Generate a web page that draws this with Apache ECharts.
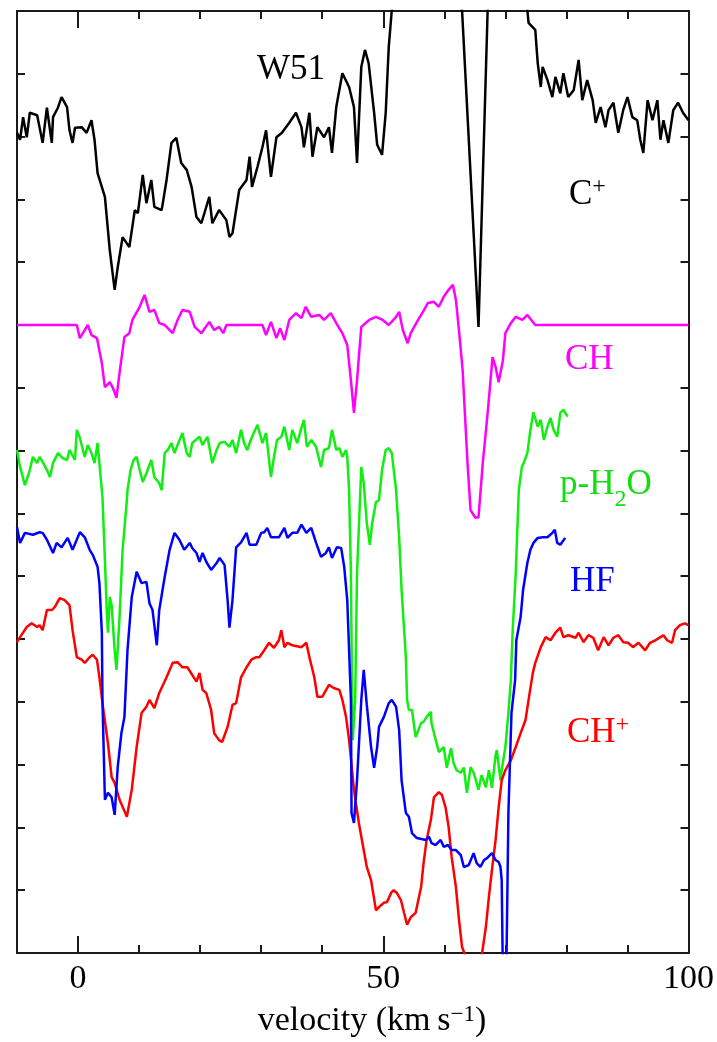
<!DOCTYPE html>
<html>
<head>
<meta charset="utf-8">
<script src="https://cdn.jsdelivr.net/npm/echarts@6/dist/echarts.min.js"></script>
<style>
html, body { margin: 0; padding: 0; background: #fff; }
#main { width: 717px; height: 1042px; }
</style>
</head>
<body>
<div id="main"></div>
<script>
// spectra: [velocity km/s, offset intensity (1 unit = 1 y tick)]
var cPlus = [[-10.0,13.06],[-9.5,12.95],[-9.0,13.31],[-8.4,12.99],[-7.9,13.38],[-6.7,13.34],[-5.8,12.90],[-5.1,13.46],[-4.3,12.90],[-4.1,13.31],[-3.3,13.46],[-2.7,13.63],[-1.8,13.47],[-1.4,13.10],[-0.9,12.90],[-0.5,13.14],[0.6,13.15],[1.4,13.06],[2.2,13.26],[2.7,12.95],[3.2,12.42],[4.4,12.04],[5.2,11.19],[6.0,10.56],[6.5,10.92],[7.3,11.40],[8.4,11.24],[9.3,11.83],[9.8,11.78],[10.6,12.39],[11.2,11.94],[12.0,12.31],[12.5,11.88],[13.7,11.83],[14.5,12.31],[15.3,12.90],[16.1,12.98],[16.9,12.58],[17.8,12.47],[18.6,12.20],[19.4,11.72],[20.2,11.62],[21.5,12.04],[22.0,11.62],[23.1,11.83],[24.3,11.67],[24.8,11.40],[25.3,11.46],[26.4,12.15],[27.6,12.31],[28.1,12.68],[28.5,12.20],[29.4,12.52],[30.2,12.83],[30.8,13.10],[31.6,12.36],[32.5,12.99],[33.4,13.06],[34.6,13.22],[35.7,13.38],[36.6,13.15],[37.0,12.83],[37.9,13.38],[38.4,12.68],[39.2,13.15],[40.3,12.99],[41.1,13.15],[41.6,12.74],[42.3,13.47],[43.3,14.01],[44.4,13.79],[45.2,13.47],[45.7,12.58],[46.4,14.11],[47.0,14.38],[47.6,14.17],[48.5,13.38],[49.0,12.87],[49.8,12.71],[50.4,13.38],[50.9,14.43],[51.4,15.02],[52.6,16.1],[55.8,16.7],[61.5,16.1],[62.9,15.02],[65.6,9.97],[67.1,15.02],[68.9,16.1],[73.0,15.65],[73.8,14.81],[74.9,14.70],[75.3,14.17],[75.8,13.79],[76.1,14.11],[76.9,13.90],[77.7,13.63],[78.2,13.95],[79.0,13.69],[79.5,14.01],[80.3,13.63],[81.2,13.74],[82.0,14.22],[82.6,13.58],[83.4,13.90],[84.3,13.58],[84.8,13.22],[85.6,13.47],[86.4,13.15],[86.9,13.42],[87.7,13.54],[88.5,13.06],[89.3,13.42],[90.0,13.63],[90.8,13.31],[91.6,13.26],[92.1,12.95],[92.6,12.74],[93.3,13.58],[94.1,13.26],[94.9,13.58],[95.4,12.95],[95.9,13.26],[96.7,12.90],[97.5,13.42],[98.3,13.54],[99.1,13.38],[100,13.26]];

var chLine = [[-10,10.0],[-0.2,10.0],[0.3,9.79],[1.1,9.92],[1.6,10.0],[2.2,9.84],[3.1,9.79],[3.9,9.39],[4.4,9.01],[5.2,9.09],[5.7,9.0],[6.3,8.84],[6.8,9.24],[7.6,9.81],[8.4,9.87],[8.9,10.08],[10.1,10.29],[10.9,10.48],[11.7,10.21],[12.5,10.24],[13.3,10.03],[14.2,10.0],[14.7,9.95],[15.5,9.87],[16.3,10.08],[17.1,10.24],[18.3,10.21],[19.1,9.97],[20.2,9.87],[21.5,10.05],[22.3,9.92],[23.1,9.97],[23.8,9.87],[24.3,10.0],[30.2,10.0],[30.8,9.84],[31.6,10.05],[32.5,9.79],[33.1,9.95],[33.8,9.76],[34.6,10.08],[35.7,10.19],[36.6,10.11],[37.3,10.29],[38.2,10.13],[39.5,10.16],[40.3,10.08],[41.4,10.19],[42.3,10.03],[43.3,9.87],[44.1,9.68],[44.7,9.12],[45.2,8.60],[45.7,9.12],[46.4,9.97],[47.7,10.08],[48.8,10.13],[49.9,10.08],[50.9,10.0],[52.1,10.13],[52.6,10.21],[53.2,9.92],[54.0,9.71],[54.5,9.87],[55.7,10.08],[56.5,10.21],[57.3,10.35],[58.3,10.37],[59.1,10.29],[59.9,10.45],[60.7,10.56],[61.4,10.64],[61.9,10.40],[62.4,9.92],[63.0,9.28],[63.8,7.80],[64.3,7.05],[65.1,6.93],[65.6,6.94],[66.3,7.80],[67.1,8.60],[67.9,9.49],[68.4,9.33],[68.9,9.09],[69.6,9.44],[70.0,9.87],[70.9,10.03],[71.7,10.13],[72.8,10.08],[73.6,10.16],[74.9,10.0],[100,10.0]];

var pH2O = [[-10.0,8.01],[-9.5,7.74],[-8.7,7.45],[-7.9,7.69],[-7.4,7.90],[-6.7,7.80],[-6.3,7.90],[-5.8,7.82],[-5.1,7.69],[-4.6,7.58],[-4.1,7.80],[-3.3,7.96],[-2.5,7.88],[-1.8,7.85],[-1.4,8.01],[-0.5,7.85],[-0.2,8.33],[0.3,8.20],[1.1,7.90],[1.6,8.09],[2.2,7.96],[2.7,7.80],[3.2,8.12],[3.5,7.80],[4.0,7.26],[4.4,6.26],[4.7,5.46],[4.9,5.10],[5.2,5.67],[5.5,5.54],[6.0,4.82],[6.3,4.51],[6.8,5.35],[7.3,6.42],[8.0,7.21],[8.1,7.37],[8.6,7.69],[9.1,7.85],[9.6,7.90],[10.1,7.69],[10.6,7.50],[11.2,7.64],[12.0,7.85],[12.5,7.58],[13.3,7.48],[13.7,7.37],[14.2,7.96],[14.7,8.01],[15.3,8.12],[15.8,7.96],[16.3,8.09],[17.1,8.28],[17.8,7.96],[18.3,7.90],[18.7,8.12],[19.9,8.22],[20.4,8.09],[21.2,8.22],[22.0,7.80],[22.7,8.01],[23.2,8.12],[24.0,8.14],[24.8,8.06],[25.3,8.17],[25.9,7.96],[26.7,8.33],[27.2,8.12],[27.7,8.01],[28.5,8.22],[29.4,8.41],[30.2,8.12],[30.8,8.28],[31.6,7.58],[32.1,7.90],[32.6,8.17],[33.3,8.22],[33.8,8.38],[34.6,8.01],[35.1,8.33],[35.9,8.12],[36.5,8.33],[37.0,8.49],[37.5,8.06],[38.2,8.17],[39.0,8.06],[39.8,7.74],[40.3,8.01],[41.1,8.04],[41.6,8.33],[42.3,8.01],[42.8,8.04],[43.3,7.90],[43.9,8.01],[44.1,7.90],[44.4,7.37],[44.7,6.05],[44.9,4.03],[45.0,3.39],[45.4,4.03],[45.7,6.05],[46.4,7.74],[46.8,7.48],[47.3,6.85],[47.8,6.50],[48.2,6.85],[48.8,7.18],[49.3,7.21],[49.8,7.69],[50.4,8.01],[50.9,8.04],[51.4,7.96],[52.1,7.37],[52.6,6.62],[53.0,5.78],[53.7,4.71],[53.9,4.03],[54.2,3.87],[54.7,3.87],[55.3,3.44],[56.2,3.66],[56.6,3.68],[57.1,3.76],[57.8,3.84],[57.9,3.66],[58.6,3.39],[59.1,3.20],[59.9,3.28],[60.4,2.95],[61.1,3.26],[61.5,3.03],[62.0,2.91],[62.7,2.87],[63.2,2.95],[63.7,2.55],[64.3,2.96],[64.8,2.87],[65.3,2.71],[65.6,2.60],[66.1,2.83],[66.8,2.64],[67.3,2.91],[67.8,2.63],[68.4,3.15],[68.6,3.23],[69.2,2.75],[69.4,2.91],[70.0,3.28],[70.5,3.82],[70.9,4.35],[71.2,5.14],[71.7,6.05],[72.2,7.37],[72.7,7.74],[73.0,7.80],[73.3,7.77],[73.6,7.96],[74.1,8.33],[74.6,8.61],[75.3,8.38],[75.8,8.49],[76.3,8.17],[76.9,8.38],[77.4,8.52],[77.9,8.33],[78.5,8.22],[79.0,8.60],[79.5,8.65],[80.2,8.54]];

var hfLine = [[-10.0,6.78],[-9.5,6.53],[-8.7,6.69],[-7.4,6.66],[-6.3,6.70],[-5.8,6.69],[-5.1,6.58],[-4.1,6.37],[-3.5,6.53],[-2.7,6.46],[-1.7,6.61],[-0.9,6.42],[0.3,6.70],[1.1,6.62],[1.9,6.42],[2.4,6.34],[3.2,6.15],[3.5,5.89],[3.9,5.10],[4.0,4.03],[4.4,2.44],[4.9,2.55],[5.5,2.48],[6.0,2.20],[6.5,2.96],[7.1,3.50],[7.6,3.76],[8.1,4.82],[8.8,5.67],[9.6,6.07],[10.4,5.89],[11.2,5.91],[11.7,5.57],[12.2,5.46],[12.9,4.90],[13.3,5.46],[14.2,5.99],[15.0,6.42],[15.8,6.69],[16.6,6.58],[17.4,6.42],[18.3,6.53],[18.7,6.45],[19.4,6.37],[19.9,6.23],[20.4,6.37],[21.0,6.23],[21.8,6.10],[22.7,6.21],[23.2,6.29],[24.0,6.18],[24.5,5.62],[24.8,5.18],[25.3,5.62],[25.9,6.46],[26.7,6.54],[27.6,6.69],[28.1,6.50],[29.2,6.50],[30.0,6.69],[30.5,6.70],[31.0,6.77],[31.6,6.62],[32.9,6.62],[33.8,6.77],[34.3,6.61],[35.1,6.69],[35.9,6.69],[36.6,6.82],[37.4,6.69],[38.2,6.77],[39.0,6.53],[39.8,6.31],[40.6,6.37],[41.1,6.46],[41.6,6.29],[42.4,6.46],[43.1,6.45],[43.6,6.15],[44.1,5.62],[44.7,4.03],[44.8,2.23],[45.2,2.07],[45.7,2.75],[46.4,4.03],[46.8,4.51],[47.3,3.95],[48.0,3.28],[48.5,2.95],[49.0,3.28],[49.3,3.60],[50.1,3.76],[50.9,3.98],[51.4,4.03],[52.1,3.92],[52.6,3.55],[53.0,2.75],[53.7,2.23],[54.2,2.17],[54.7,1.91],[55.5,1.83],[57.0,1.80],[57.5,1.85],[57.9,1.75],[58.6,1.72],[59.4,1.80],[59.9,1.69],[60.6,1.72],[61.2,1.64],[61.9,1.64],[62.7,1.56],[63.2,1.37],[64.0,1.40],[64.8,1.59],[65.3,1.43],[65.9,1.37],[66.5,1.48],[67.0,1.51],[67.8,1.59],[68.4,1.48],[68.9,1.45],[69.2,1.37],[69.4,1.16],[69.6,-0.4],[70.0,-0.4],[70.2,0],[70.5,2.23],[71.0,3.82],[71.6,4.35],[71.8,4.98],[72.5,5.35],[72.9,5.78],[73.6,6.21],[74.1,6.42],[74.6,6.53],[75.3,6.61],[76.1,6.62],[76.9,6.62],[77.7,6.69],[78.1,6.74],[78.5,6.53],[79.0,6.50],[79.8,6.61]];

var chPlus = [[-10.0,4.95],[-9.5,5.03],[-8.4,5.19],[-7.6,5.25],[-6.7,5.19],[-6.3,5.22],[-5.8,5.14],[-5.1,5.46],[-4.3,5.46],[-3.8,5.51],[-3.0,5.65],[-2.2,5.62],[-1.4,5.54],[-0.9,5.14],[-0.2,4.71],[0.6,4.67],[1.1,4.62],[1.9,4.71],[2.4,4.75],[3.1,4.67],[3.5,4.39],[4.0,3.98],[4.9,3.34],[5.5,2.80],[6.0,2.71],[6.8,2.44],[8.0,2.17],[8.8,2.60],[9.6,3.28],[10.4,3.82],[11.2,3.92],[11.7,4.03],[12.5,3.90],[13.3,4.14],[14.5,4.39],[15.5,4.62],[16.3,4.63],[17.1,4.55],[17.9,4.55],[18.7,4.43],[19.4,4.32],[19.9,4.46],[20.4,4.19],[21.0,4.14],[21.8,3.87],[22.3,3.50],[23.1,3.39],[23.6,3.36],[24.5,3.60],[25.3,3.95],[25.9,3.98],[26.7,4.39],[27.6,4.55],[28.4,4.67],[29.2,4.71],[29.7,4.71],[30.5,4.82],[31.3,4.94],[32.1,4.86],[32.9,4.98],[33.3,5.14],[33.8,4.87],[34.3,4.94],[35.1,4.90],[36.6,4.87],[37.4,4.94],[37.9,4.71],[38.7,4.39],[39.2,4.08],[40.0,4.08],[41.1,4.27],[41.9,4.22],[42.8,4.19],[43.3,4.03],[43.9,3.76],[44.4,3.39],[45.2,2.60],[46.0,2.07],[46.5,1.80],[47.3,1.37],[48.0,1.16],[48.8,0.68],[49.3,0.73],[50.1,0.80],[50.6,0.81],[51.3,0.96],[51.7,1.00],[52.2,0.96],[52.9,0.84],[53.4,0.64],[53.9,0.45],[54.5,0.57],[55.3,0.64],[56.2,1.05],[56.6,1.43],[57.1,1.80],[57.8,2.12],[58.3,2.48],[59.1,2.56],[59.6,2.52],[60.2,2.32],[60.7,2.01],[61.2,1.53],[61.9,1.05],[62.4,0.53],[62.9,0.10],[63.5,-0.06],[66.1,-0.06],[66.8,0.41],[67.3,0.89],[67.8,1.32],[68.4,1.80],[68.9,2.32],[69.4,2.75],[70.0,2.91],[70.9,3.07],[71.7,3.28],[72.5,3.50],[73.3,3.71],[73.8,4.03],[74.5,4.46],[74.9,4.62],[75.8,4.87],[76.6,5.03],[77.4,4.98],[78.2,5.10],[79.0,5.18],[79.5,5.03],[80.3,5.06],[81.5,5.02],[82.0,5.10],[82.8,4.95],[83.6,5.06],[84.4,5.02],[85.2,4.82],[86.1,5.03],[86.9,4.90],[87.7,5.02],[88.5,5.06],[89.3,4.95],[90.1,4.94],[90.9,4.87],[91.8,4.94],[92.9,4.82],[93.7,4.94],[94.6,4.98],[95.4,5.03],[95.9,5.06],[96.5,4.98],[97.3,4.94],[97.8,5.14],[98.6,5.22],[99.4,5.25],[100,5.22]];

// axis ticks
var minorTicks = [-10, 0, 10, 20, 30, 40, 50, 60, 70, 80, 90, 100];
var majorTicks = [0, 50, 100];

var serif = '"Liberation Serif", "DejaVu Serif", serif';
var frame = '#1a1a1a';

var chart = echarts.init(document.getElementById('main'));

function xAx(pos, ticks, len, labels) {
    return {
        type: 'value', min: -10, max: 100, interval: 10, position: pos,
        axisLine: { show: true, onZero: false, lineStyle: { color: frame, width: 2 } },
        axisTick: { show: true, inside: true, length: len, customValues: ticks,
                    lineStyle: { color: frame, width: 2 } },
        axisLabel: labels ? { show: true, customValues: labels, margin: 9,
                    fontFamily: serif, fontSize: 34, color: '#000' } : { show: false },
        splitLine: { show: false }
    };
}
function yAx(pos) {
    return {
        type: 'value', min: 0, max: 15, interval: 1, position: pos,
        axisLine: { show: true, onZero: false, lineStyle: { color: frame, width: 2 } },
        axisTick: { show: true, inside: true, length: 8, lineStyle: { color: frame, width: 2 } },
        axisLabel: { show: false },
        splitLine: { show: false }
    };
}
function spec(name, data, color) {
    return {
        name: name, type: 'line', data: data, showSymbol: false, symbol: 'none',
        lineStyle: { color: color, width: 2.5 }, itemStyle: { color: color },
        clip: true, animation: false
    };
}
function label(x, y, text, rich) {
    return { type: 'text', x: x, y: y, z: 100,
             style: { text: text, rich: rich, align: 'left', verticalAlign: 'middle' } };
}
function richSet(color) {
    return {
        n: { fontFamily: serif, fontSize: 35, fill: color, color: color },
        sup: { fontFamily: serif, fontSize: 24, fill: color, color: color, padding: [0, 0, 16, 0] },
        sub: { fontFamily: serif, fontSize: 24, fill: color, color: color, padding: [30, 0, 0, 0] }
    };
}

var option = {
    backgroundColor: '#fff',
    animation: false,
    grid: { left: 17, right: 27, top: 11, bottom: 89, containLabel: false },
    xAxis: [
        xAx('bottom', minorTicks, 8, null),
        xAx('bottom', majorTicks, 17, majorTicks),
        xAx('top', minorTicks, 8, null),
        xAx('top', majorTicks, 17, null)
    ],
    yAxis: [yAx('left'), yAx('right')],
    series: [
        spec('C+', cPlus, '#000000'),
        spec('CH', chLine, '#ff00ff'),
        spec('p-H2O', pH2O, '#11ee11'),
        spec('CH+', chPlus, '#ff0000'),
        spec('HF', hfLine, '#0000ff')
    ],
    graphic: [
        label(257, 70, '{n|W51}', richSet('#000')),
        label(569, 195, '{n|C}{sup|+}', richSet('#000')),
        label(565, 360, '{n|CH}', richSet('#ff00ff')),
        label(560, 485, '{n|p-H}{sub|2}{n|O}', richSet('#11dd11')),
        label(570, 582, '{n|HF}', richSet('#0000ff')),
        label(567, 733, '{n|CH}{sup|+}', richSet('#ff0000')),
        { type: 'text', x: 372, y: 1021, z: 100,
          style: { text: '{n|velocity (km\u2009s}{sup|\u22121}{n|)}', align: 'center', verticalAlign: 'middle',
                   rich: {
                       n: { fontFamily: serif, fontSize: 34, fill: '#000', color: '#000' },
                       sup: { fontFamily: serif, fontSize: 23, fill: '#000', color: '#000', padding: [0, 0, 12, 0] }
                   } } }
    ]
};

chart.setOption(option, true);
</script>
</body>
</html>
